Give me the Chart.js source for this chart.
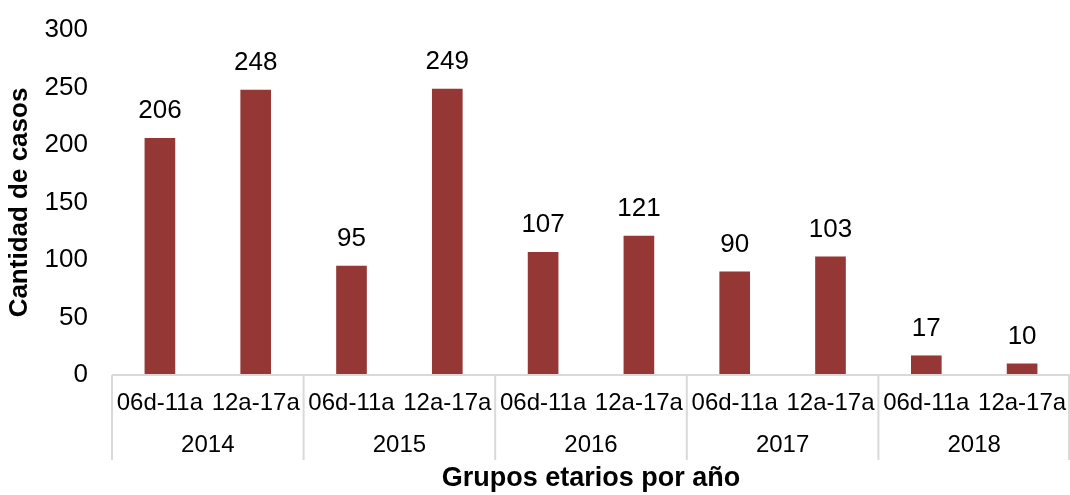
<!DOCTYPE html>
<html>
<head>
<meta charset="utf-8">
<script src="https://cdn.jsdelivr.net/npm/chart.js@4.4.1/dist/chart.umd.min.js"></script>
<style>
  html, body { margin: 0; padding: 0; background: #fff; }
  #wrap { width: 1070px; height: 495px; position: relative; }
</style>
</head>
<body>
<div id="wrap"><canvas id="grafico"></canvas></div>
<script>
// datos
const grupos = ['06d-11a', '12a-17a', '06d-11a', '12a-17a', '06d-11a', '12a-17a', '06d-11a', '12a-17a', '06d-11a', '12a-17a'];
const anios = ['2014', '2015', '2016', '2017', '2018'];
const casos = [206, 248, 95, 249, 107, 121, 90, 103, 17, 10];
const yTicks = [0, 50, 100, 150, 200, 250, 300];

const fuente = 'Liberation Sans, Arial, sans-serif';
const colorBarra = '#953735';
const colorLinea = '#d9d9d9';

Chart.defaults.font.family = fuente;
Chart.defaults.color = '#000';

// etiquetas de valor encima de cada barra
const etiquetasValor = {
  id: 'etiquetasValor',
  afterDatasetsDraw(chart) {
    const ctx = chart.ctx;
    const meta = chart.getDatasetMeta(0);
    ctx.save();
    ctx.font = '26px ' + fuente;
    ctx.fillStyle = '#000';
    ctx.textAlign = 'center';
    ctx.textBaseline = 'middle';
    meta.data.forEach((bar, i) => {
      ctx.fillText(String(casos[i]), bar.x, bar.y - 27);
    });
    ctx.restore();
  }
};

// eje X de dos niveles: grupo etario + año, con separadores
const ejeDosNiveles = {
  id: 'ejeDosNiveles',
  afterDraw(chart) {
    const ctx = chart.ctx;
    const x = chart.scales.x;
    const area = chart.chartArea;
    const paso = x.getPixelForValue(1) - x.getPixelForValue(0);
    ctx.save();
    // linea del eje
    ctx.strokeStyle = colorLinea;
    ctx.lineWidth = 2;
    ctx.beginPath();
    ctx.moveTo(area.left, area.bottom);
    ctx.lineTo(area.right, area.bottom);
    ctx.stroke();
    // separadores verticales
    for (let g = 0; g <= anios.length; g++) {
      const px = Math.min(x.getPixelForValue(g * 2) - paso / 2, area.right - 1);
      ctx.beginPath();
      ctx.moveTo(px, area.bottom);
      ctx.lineTo(px, area.bottom + 85);
      ctx.stroke();
    }
    ctx.fillStyle = '#000';
    ctx.textAlign = 'center';
    ctx.textBaseline = 'middle';
    ctx.font = '24px ' + fuente;
    grupos.forEach((lab, i) => {
      ctx.fillText(lab, x.getPixelForValue(i), area.bottom + 28);
    });
    anios.forEach((a, g) => {
      const cx = (x.getPixelForValue(g * 2) + x.getPixelForValue(g * 2 + 1)) / 2;
      ctx.fillText(a, cx, area.bottom + 70);
    });
    ctx.font = 'bold 27px ' + fuente;
    ctx.fillText('Grupos etarios por año', (area.left + area.right) / 2, area.bottom + 104);
    ctx.restore();
  }
};

const chartCasos = new Chart(document.getElementById('grafico'), {
  type: 'bar',
  data: {
    labels: grupos.map((g, i) => anios[Math.floor(i / 2)] + ' ' + g),
    datasets: [{
      label: 'Cantidad de casos',
      data: casos,
      backgroundColor: colorBarra,
      barPercentage: 0.32,
      categoryPercentage: 1
    }]
  },
  options: {
    responsive: true,
    maintainAspectRatio: false,
    animation: false,
    layout: { padding: { top: 30, right: 0, bottom: 120, left: 0 } },
    plugins: {
      legend: { display: false },
      tooltip: { enabled: false }
    },
    scales: {
      x: {
        grid: { display: false },
        border: { display: false },
        ticks: { display: false },
        afterFit(scale) {
          scale.height = 0;
        }
      },
      y: {
        min: 0,
        max: 300,
        afterBuildTicks(scale) {
          scale.ticks = yTicks.map(v => ({ value: v }));
        },
        afterFit(scale) {
          scale.width = 112;
          scale.paddingTop = 0;
          scale.paddingBottom = 0;
        },
        grid: { display: false, drawTicks: false },
        border: { display: false },
        ticks: {
          padding: 24,
          color: '#000',
          font: { size: 26 }
        },
        title: {
          display: true,
          text: 'Cantidad de casos',
          color: '#000',
          padding: { top: 4, bottom: 0 },
          font: { size: 26, weight: 'bold' }
        }
      }
    }
  },
  plugins: [etiquetasValor, ejeDosNiveles]
});
</script>
</body>
</html>
